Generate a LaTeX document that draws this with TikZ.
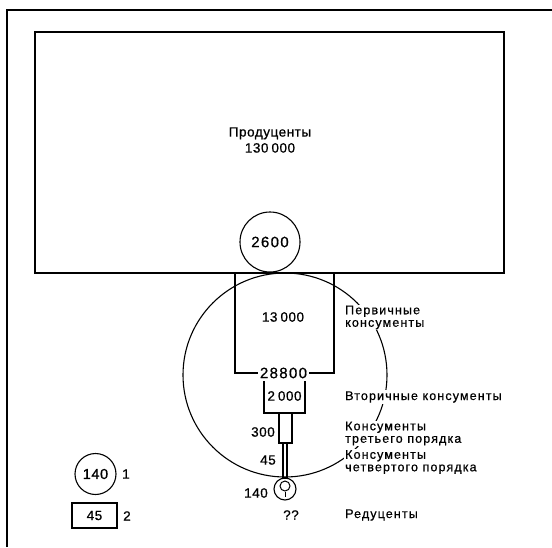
\documentclass[tikz,border=0pt]{standalone}
\usepackage{fontspec}
\setmainfont{Liberation Sans}
\newfontfamily\wideA[LetterSpace=4,FakeBold=0.7]{Liberation Sans}
\newfontfamily\wideB[LetterSpace=9,FakeBold=0.7]{Liberation Sans}
\newcommand{\gapsp}{\hspace{3pt}}
\tikzset{
  frameline/.style={line width=1.4pt},
  boxline/.style={line width=1.5pt},
  ringline/.style={line width=1.1pt},
  num/.style={font=\wideA\fontsize{13.5}{14}\selectfont, inner sep=1pt},
  bignum/.style={font=\wideB\fontsize{15}{16}\selectfont, inner sep=1pt},
  lbl/.style={font=\wideB\fontsize{12.5}{12.5}\selectfont, align=left, anchor=west, fill=white, inner sep=1pt},
}
\begin{document}
\begin{tikzpicture}[x=1pt,y=-1pt]
\useasboundingbox (0,0) rectangle (552,547);
% outer frame (top and left edges)
\coordinate (fbl) at (7,547);
\coordinate (ftl) at (7,10);
\coordinate (ftr) at (552,10);
\draw[frameline] (fbl) -- (ftl) -- (ftr);
% producers
\node[boxline, draw, minimum width=469pt, minimum height=241pt, inner sep=0pt] (prod) at (269.5,152.5) {};
\node[num, align=center] (prodtxt) at (270,140) {Продуценты\\[2pt]130\gapsp000};
% big circle
\node[ringline, draw, circle, minimum size=204pt, inner sep=0pt] (big) at (285,375) {};
% 2600 circle
\node[ringline, draw, circle, minimum size=60pt, inner sep=0pt, bignum] (c2600) at (270,242) {2600};
% primary consumers box
\coordinate (p1) at (235,273);
\coordinate (p2) at (334,273);
\node[bignum, inner sep=2pt] (n28800) at (283.5,373) {28800};
\draw[boxline] (p1) |- (n28800.west);
\draw[boxline] (p2) |- (n28800.east);
\node[num] (n13000) at (283,317) {13\gapsp000};
% secondary
\coordinate (s1) at (264,381);
\coordinate (s2) at (305,381);
\coordinate (s3) at (264,413);
\coordinate (s4) at (305,413);
\draw[boxline] (s1) -- (s3) -- (s4) -- (s2);
\node[num] (n2000) at (284.5,396) {2\gapsp000};
% third
\node[boxline, draw, minimum width=13pt, minimum height=30pt, inner sep=0pt] (third) at (285.5,428) {};
\node[num] (n300) at (263,432) {300};
% fourth
\node[line width=1.2pt, draw, minimum width=4pt, minimum height=35pt, inner sep=0pt] (fourth) at (285,460.5) {};
\node[num] (n45) at (268,460) {45};
% reducers
\node[ringline, draw, circle, minimum size=22pt, inner sep=0pt] (red) at (285,489) {};
\node[line width=1pt, draw, circle, minimum size=10pt, inner sep=0pt] (redin) at (285,486) {};
\coordinate (redtail) at (285,497);
\draw[line width=1pt] (redin.south) -- (redtail);
\node[num] (n140) at (256,493) {140};
\node[num] (qq) at (291,515) {??};
% labels
\node[lbl] (l1) at (344,317.5) {Первичные\\консументы};
\node[lbl] (l2) at (344,397) {Вторичные консументы};
\node[lbl] (l3) at (344,433.5) {Консументы\\третьего порядка};
\node[lbl] (l4) at (344,462) {Консументы\\четвертого порядка};
\node[lbl, fill=none] (l5) at (344,515) {Редуценты};
% legend
\node[ringline, draw, circle, minimum size=41pt, inner sep=0pt, font=\wideA\fontsize{14.5}{15}\selectfont] (leg1) at (95.5,474) {140};
\node[num, anchor=west] (leg1t) at (121,474) {1};
\node[line width=1.1pt, draw, minimum width=45pt, minimum height=25pt, inner sep=0pt, num] (leg2) at (94.5,515.5) {45};
\node[num, anchor=west] (leg2t) at (122,516) {2};
\end{tikzpicture}
\end{document}
